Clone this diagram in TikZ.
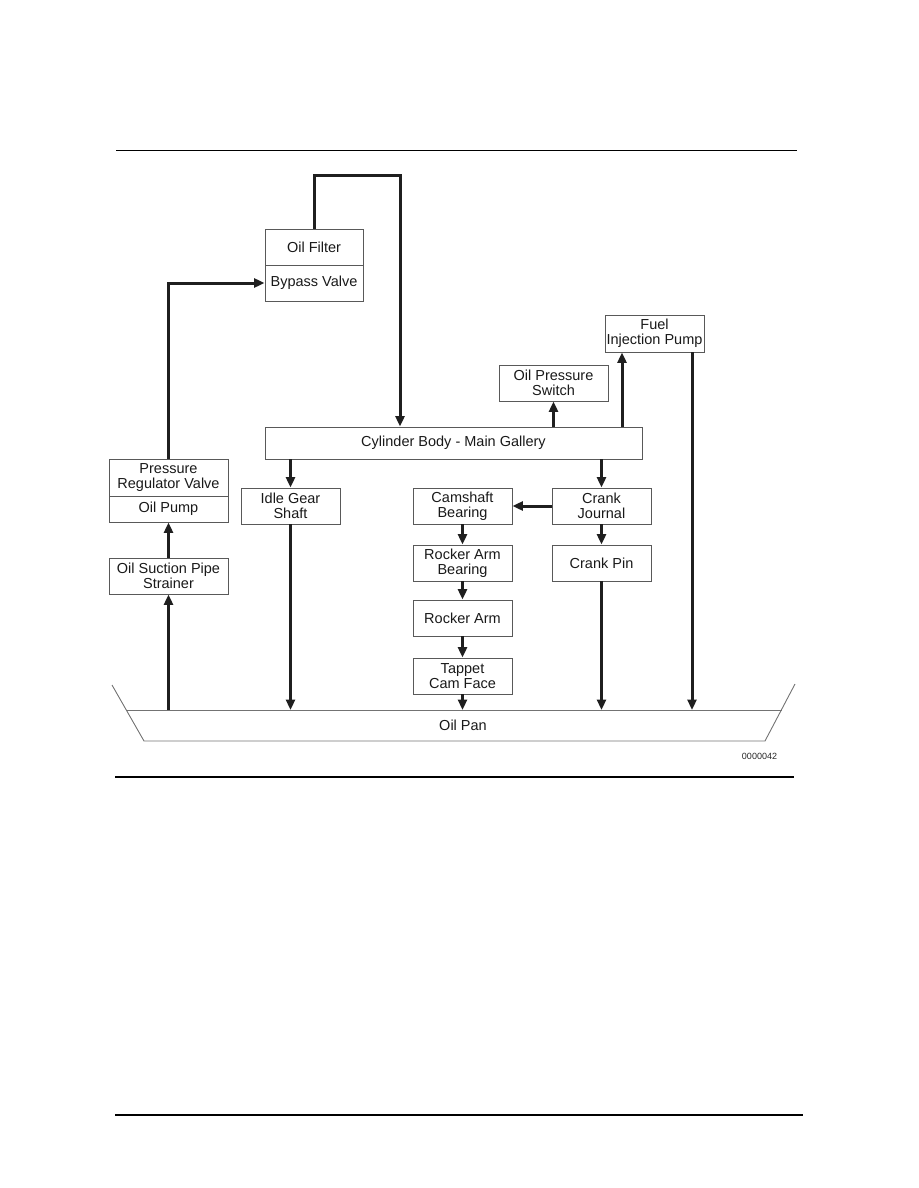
\documentclass[tikz,border=0pt]{standalone}
\usepackage{fontspec}
\setmainfont{Liberation Sans}
\usetikzlibrary{arrows.meta}

\begin{document}
\begin{tikzpicture}[x=1pt, y=-1pt,
  >={Triangle[length=10.5pt,width=9pt]},
  box/.style={draw=black!65, line width=0.9pt, inner sep=0pt, align=center,
    text=black!90, font=\fontsize{14.5}{15}\selectfont},
  flow/.style={->, line width=3pt, draw=black!88},
  pan/.style={draw=black!55, line width=0.9pt}]
  \useasboundingbox (0,0) rectangle (918,1188);
  % rules
  \draw[line width=1pt] (116,150) -- (797,150);
  \draw[line width=2.3pt] (115,777) -- (794,777);
  \draw[line width=2pt] (115,1114.5) -- (803,1114.5);
  % filter and pump side
  \node[box, minimum width=98, minimum height=36] (filter) at (314,247) {Oil Filter};
  \node[box, minimum width=98, minimum height=36] (bypass) at (314,283) {Bypass Valve};
  \node[box, minimum width=119, minimum height=37] (prv) at (168.5,477.5) {Pressure\\Regulator Valve};
  \node[box, minimum width=119, minimum height=26] (oilpump) at (168.5,509) {Oil Pump};
  \node[box, minimum width=119, minimum height=36] (strainer) at (168.5,576) {Oil Suction Pipe\\Strainer};
  % gallery and branches
  \node[box, minimum width=377, minimum height=32] (gallery) at (453.5,443) {Cylinder Body - Main Gallery};
  \node[box, minimum width=99, minimum height=36] (idle) at (290.5,506) {Idle Gear\\Shaft};
  \node[box, minimum width=109, minimum height=36] (oilsw) at (553.5,383) {Oil Pressure\\Switch};
  \node[box, minimum width=99, minimum height=37] (fip) at (654.5,333.5) {Fuel\\Injection Pump};
  \node[box, minimum width=99, minimum height=36] (journal) at (601.5,506) {Crank\\Journal};
  \node[box, minimum width=99, minimum height=36] (crankpin) at (601.5,563) {Crank Pin};
  \node[box, minimum width=99, minimum height=36] (camshaft) at (462.5,506) {Camshaft\\Bearing};
  \node[box, minimum width=99, minimum height=36] (rabearing) at (462.5,563) {Rocker Arm\\Bearing};
  \node[box, minimum width=99, minimum height=36] (rocker) at (462.5,618) {Rocker Arm};
  \node[box, minimum width=99, minimum height=36] (tappet) at (462.5,676) {Tappet\\Cam Face};
  % oil pan
  \draw[pan] (112,685) -- (144,741) -- (765,741) -- (795,684);
  \draw[pan] (126,710) -- (782,710);
  \node[text=black!90, font=\fontsize{14.5}{15}\selectfont] (pantxt) at (463,725) {Oil Pan};
  \coordinate (pantop) at (463,710);
  \node[text=black!85, font=\fontsize{9}{10}\selectfont] (code) at (759.5,756) {0000042};
  % pump circuit
  \coordinate (ftop) at (400,175);
  \coordinate (fipin) at ([xshift=-32.5pt]fip.south);
  \coordinate (fipout) at ([xshift=37.5pt]fip.south);
  \draw[flow] (strainer.south |- pantop) -- (strainer.south);
  \draw[flow] (strainer.north) -- (oilpump.south);
  \draw[flow] (prv.north) |- (bypass.west);
  \draw[flow] (filter.north) |- (ftop) -- (ftop |- gallery.north);
  % gallery outlets
  \draw[flow] (idle.north |- gallery.south) -- (idle.north);
  \draw[flow] (idle.south) -- (idle.south |- pantop);
  \draw[flow] (oilsw.south |- gallery.north) -- (oilsw.south);
  \draw[flow] (fipin |- gallery.north) -- (fipin);
  \draw[flow] (fipout) -- (fipout |- pantop);
  \draw[flow] (journal.north |- gallery.south) -- (journal.north);
  \draw[flow] (journal.west) -- (camshaft.east);
  \draw[flow] (journal.south) -- (crankpin.north);
  \draw[flow] (crankpin.south) -- (crankpin.south |- pantop);
  % valve train
  \draw[flow] (camshaft.south) -- (rabearing.north);
  \draw[flow] (rabearing.south) -- (rocker.north);
  \draw[flow] (rocker.south) -- (tappet.north);
  \draw[flow] (tappet.south) -- (tappet.south |- pantop);
\end{tikzpicture}
\end{document}
